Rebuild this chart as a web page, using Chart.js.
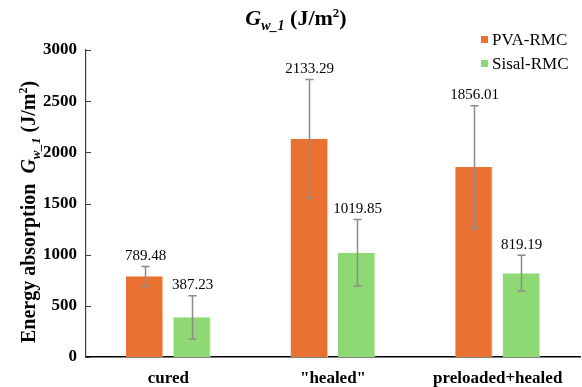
<!DOCTYPE html>
<html>
<head>
<meta charset="utf-8">
<script src="https://cdn.jsdelivr.net/npm/chart.js@4/dist/chart.umd.min.js"></script>
<style>
  html, body { margin: 0; padding: 0; background: #fff; }
  #wrap { width: 582px; height: 387px; }
</style>
</head>
<body>
<div id="wrap"><canvas id="c" width="582" height="387"></canvas></div>
<script>
// Energy absorption per condition
const categories = ['cured', '"healed"', 'preloaded+healed'];
const seriesNames = ['PVA-RMC', 'Sisal-RMC'];
const pvaValues = [789.48, 2133.29, 1856.01];
const sisalValues = [387.23, 1019.85, 819.19];
const pvaErrors = [95, 578, 600];
const sisalErrors = [212, 325, 175];
const yTicks = [0, 500, 1000, 1500, 2000, 2500, 3000];

const SERIF = '"Liberation Serif", "Times New Roman", serif';
const colors = ['#E97132', '#8ED973'];

// Error bars + value labels drawn on top of the bars
const barExtras = {
  id: 'barExtras',
  afterDatasetsDraw(chart) {
    const ctx = chart.ctx;
    const y = chart.scales.y;
    const errs = [pvaErrors, sisalErrors];
    chart.data.datasets.forEach((ds, di) => {
      const meta = chart.getDatasetMeta(di);
      meta.data.forEach((bar, i) => {
        const v = ds.data[i];
        const e = errs[di][i];
        const yt = y.getPixelForValue(v + e);
        const yb = y.getPixelForValue(v - e);
        const x = Math.round(bar.x) + 0.5;
        ctx.save();
        ctx.strokeStyle = '#8c8c8c';
        ctx.lineWidth = 1.5;
        ctx.beginPath();
        ctx.moveTo(x, yt); ctx.lineTo(x, yb);
        ctx.moveTo(x - 4, yt); ctx.lineTo(x + 4, yt);
        ctx.moveTo(x - 4, yb); ctx.lineTo(x + 4, yb);
        ctx.stroke();
        ctx.fillStyle = '#000';
        ctx.font = '15px ' + SERIF;
        ctx.textAlign = 'center';
        ctx.textBaseline = 'bottom';
        ctx.fillText(v.toFixed(2), x, yt - 3);
        ctx.restore();
      });
    });
  }
};

// Title, rotated axis title, inward y ticks and legend
const decorations = {
  id: 'decorations',
  afterDraw(chart) {
    const ctx = chart.ctx;
    const area = chart.chartArea;
    const y = chart.scales.y;

    // inward tick marks on the value axis
    ctx.save();
    ctx.strokeStyle = '#404040';
    ctx.lineWidth = 1;
    yTicks.forEach(t => {
      const py = Math.round(y.getPixelForValue(t)) + 0.5;
      ctx.beginPath();
      ctx.moveTo(area.left, py);
      ctx.lineTo(area.left + 5, py);
      ctx.stroke();
    });
    ctx.restore();

    // rich text helper: segments of [text, font, dy]
    function measure(segs) {
      let w = 0;
      segs.forEach(s => { ctx.font = s[1]; w += ctx.measureText(s[0]).width; });
      return w;
    }
    function drawSegs(segs, x, base) {
      let cx = x;
      segs.forEach(s => {
        ctx.font = s[1];
        ctx.fillText(s[0], cx, base + s[2]);
        cx += ctx.measureText(s[0]).width;
      });
    }

    // chart title
    ctx.save();
    ctx.fillStyle = '#000';
    ctx.textBaseline = 'alphabetic';
    ctx.textAlign = 'left';
    const titleSegs = [
      ['G', 'italic bold 22px ' + SERIF, 0],
      ['w_1', 'italic bold 14px ' + SERIF, 5],
      [' (J/m', 'bold 22px ' + SERIF, 0],
      ['2', 'bold 13px ' + SERIF, -8],
      [')', 'bold 22px ' + SERIF, 0]
    ];
    const tw = measure(titleSegs);
    drawSegs(titleSegs, 296 - tw / 2, 25);
    ctx.restore();

    // value axis title (rotated)
    ctx.save();
    ctx.fillStyle = '#000';
    ctx.textBaseline = 'alphabetic';
    ctx.textAlign = 'left';
    const axSegs = [
      ['Energy absorption  ', 'bold 20px ' + SERIF, 0],
      ['G', 'italic bold 20px ' + SERIF, 0],
      ['w_1', 'italic bold 13px ' + SERIF, 5],
      [' (J/m', 'bold 20px ' + SERIF, 0],
      ['2', 'bold 12px ' + SERIF, -8],
      [')', 'bold 20px ' + SERIF, 0]
    ];
    const aw = measure(axSegs);
    ctx.translate(35, 212);
    ctx.rotate(-Math.PI / 2);
    drawSegs(axSegs, -aw / 2, 0);
    ctx.restore();

    // legend
    ctx.save();
    ctx.textBaseline = 'middle';
    ctx.textAlign = 'left';
    ctx.font = '17px ' + SERIF;
    seriesNames.forEach((name, i) => {
      const ly = 40 + i * 24;
      ctx.fillStyle = colors[i];
      ctx.fillRect(481, ly - 4, 7, 7);
      ctx.fillStyle = '#000';
      ctx.fillText(name, 492, ly + 1);
    });
    ctx.restore();
  }
};

new Chart(document.getElementById('c'), {
  type: 'bar',
  data: {
    labels: categories,
    datasets: [
      { label: seriesNames[0], data: pvaValues, backgroundColor: colors[0],
        borderColor: '#F6C3A6', borderWidth: { right: 1 }, borderSkipped: false },
      { label: seriesNames[1], data: sisalValues, backgroundColor: colors[1],
        borderColor: '#C8EEBA', borderWidth: { right: 1 }, borderSkipped: false }
    ]
  },
  options: {
    responsive: false,
    animation: false,
    events: [],
    layout: { padding: { top: 50, right: 2, left: 0, bottom: 0 } },
    datasets: { bar: { categoryPercentage: 0.576, barPercentage: 0.79 } },
    plugins: {
      legend: { display: false },
      title: { display: false },
      tooltip: { enabled: false }
    },
    scales: {
      x: {
        grid: { display: false, drawTicks: false },
        border: { display: true, color: '#000', width: 1.5 },
        ticks: { color: '#000', font: { family: SERIF, size: 17, weight: 'bold' }, padding: 11 },
        afterFit(s) { s.height = 30; }
      },
      y: {
        min: 0, max: 3000,
        grid: { display: false, drawTicks: false },
        border: { display: true, color: '#404040', width: 1.2 },
        ticks: { stepSize: 500, color: '#000', font: { family: SERIF, size: 17, weight: 'bold' }, padding: 9,
                 callback: v => String(v) },
        afterFit(s) { s.width = 86; }
      }
    }
  },
  plugins: [barExtras, decorations]
});
</script>
</body>
</html>
